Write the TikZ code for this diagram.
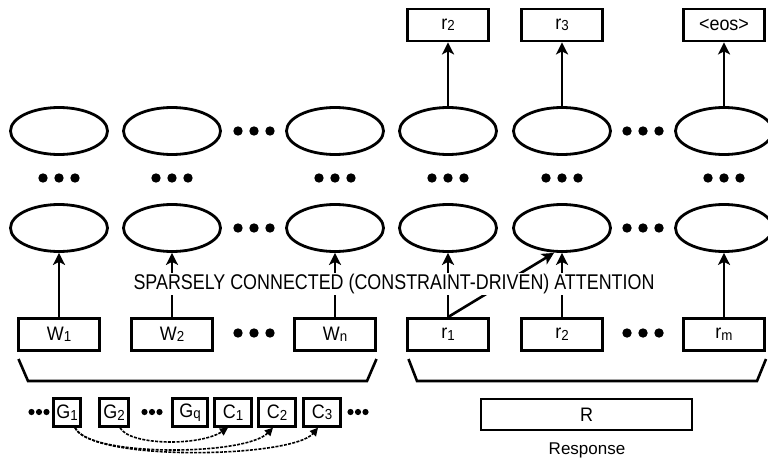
\documentclass[tikz,border=0pt]{standalone}
\usepackage{fontspec}
\setmainfont{Liberation Sans}
\newfontfamily\narrowfont[FakeStretch=0.84]{Liberation Sans}
\newfontfamily\tokfont[FakeStretch=0.92]{Liberation Sans}
\usetikzlibrary{arrows.meta,shapes.geometric}
% small lowered index digit
\newcommand\lowidx[1]{{\fontsize{14.5}{14.5}\selectfont\raisebox{-1.5pt}{#1}}}

\begin{document}
\begin{tikzpicture}[x=1pt,y=-1pt,
  unit/.style={draw, ellipse, line width=2.8pt, minimum width=97pt, minimum height=47pt, inner sep=0pt},
  tok/.style={draw, line width=2.8pt, minimum width=81pt, minimum height=32pt, inner sep=0pt,
              font=\tokfont\fontsize{19.5}{19.5}\selectfont},
  cell/.style={draw, line width=2.8pt, minimum height=27.6pt, inner sep=0pt,
               font=\tokfont\fontsize{19.5}{19.5}\selectfont},
  up/.style={line width=2.6pt, -{Stealth[length=12pt,width=12pt,inset=3pt]}},
  link/.style={line width=1.6pt, dash pattern=on 3pt off 1.3pt, -{Triangle[length=8pt,width=8pt]}},
  brace/.style={line width=2.6pt, line join=miter},
  trio/.pic={\fill (-16,0) circle (4.7pt) (0,0) circle (4.7pt) (16,0) circle (4.7pt);},
  smalltrio/.pic={\fill (-7.5,0) circle (3.1pt) (0,0) circle (3.1pt) (7.5,0) circle (3.1pt);},
]
\clip (0,0) rectangle (768,460);
\fill[white] (0,0) rectangle (768,460);

% stacked recurrent units
\foreach \n/\x in {1/59,2/172,3/335,4/448,5/562,6/724}{
  \node[unit] (hi\n) at (\x,131) {};
  \node[unit] (lo\n) at (\x,228) {};
  \pic at (\x,178) {trio};
}
\pic at (254,131) {trio};
\pic at (254,228) {trio};
\pic at (643,131) {trio};
\pic at (643,228) {trio};

% decoder outputs
\node[tok] (o4) at (448,25) {r\lowidx{2}};
\node[tok] (o5) at (562,25) {r\lowidx{3}};
\node[tok] (o6) at (724,25) {<eos>};
\draw[up] (hi4.north) -- (o4.south);
\draw[up] (hi5.north) -- (o5.south);
\draw[up] (hi6.north) -- (o6.south);

% input tokens
\node[tok] (w1) at (59,334.5) {W\lowidx{1}};
\node[tok] (w2) at (172,334.5) {W\lowidx{2}};
\node[tok] (w3) at (335,334.5) {W\lowidx{n}};
\node[tok] (s1) at (448,334.5) {r\lowidx{1}};
\node[tok] (s2) at (562,334.5) {r\lowidx{2}};
\node[tok] (s3) at (724,334.5) {r\lowidx{m}};
\pic at (254,333) {trio};
\pic at (643,333) {trio};

\draw[up] (w1.north) -- (lo1.south);
\draw[up] (w2.north) -- (lo2.south);
\draw[up] (w3.north) -- (lo3.south);
\draw[up] (s1.north) -- (lo4.south);
\draw[up] (s2.north) -- (lo5.south);
\draw[up] (s3.north) -- (lo6.south);
\draw[up] (s1.north) -- ([xshift=-8pt]lo5.south);

\node[fill=white, inner sep=1.5pt, font=\narrowfont\fontsize{21.3}{21.3}\selectfont] (att) at (394,284)
  {SPARSELY CONNECTED (CONSTRAINT-DRIVEN) ATTENTION};

% grouping brackets
\draw[brace] (18.5,359) -- (28,381) -- (367,381) -- (376.5,359);
\draw[brace] (408.5,359) -- (417,381) -- (757,381) -- (766,359);

% graph and constraint tokens
\pic at (39,412) {smalltrio};
\node[cell, minimum width=27pt] (g1) at (67,412.5) {G\lowidx{1}};
\node[cell, minimum width=29pt] (g2) at (114,412.5) {G\lowidx{2}};
\pic at (152,412) {smalltrio};
\node[cell, minimum width=35.6pt] (gq) at (190,412.5) {G\lowidx{q}};
\node[cell, minimum width=36.6pt] (c1) at (233,412.5) {C\lowidx{1}};
\node[cell, minimum width=36.6pt] (c2) at (277,412.5) {C\lowidx{2}};
\node[cell, minimum width=37.6pt] (c3) at (322,412.5) {C\lowidx{3}};
\pic at (358,412) {smalltrio};

\draw[link] ([xshift=6pt]g2.south) .. controls (130,446) and (200,446) .. ([xshift=-5pt]c1.south);
\draw[link] ([xshift=8pt]g1.south) .. controls (88,457) and (245,456) .. ([xshift=-4pt]c2.south);
\draw[link] ([xshift=8pt]g1.south) .. controls (92,462) and (292,458) .. ([xshift=-4pt]c3.south);

% response
\node[draw, line width=2.8pt, minimum width=211pt, minimum height=31pt, inner sep=0pt,
      font=\tokfont\fontsize{19.5}{19.5}\selectfont] (resp) at (586.5,414.5) {R};
\node[anchor=base, inner sep=0pt, font=\fontsize{17}{17}\selectfont] (resplabel) at (587,454) {Response};
\end{tikzpicture}
\end{document}
